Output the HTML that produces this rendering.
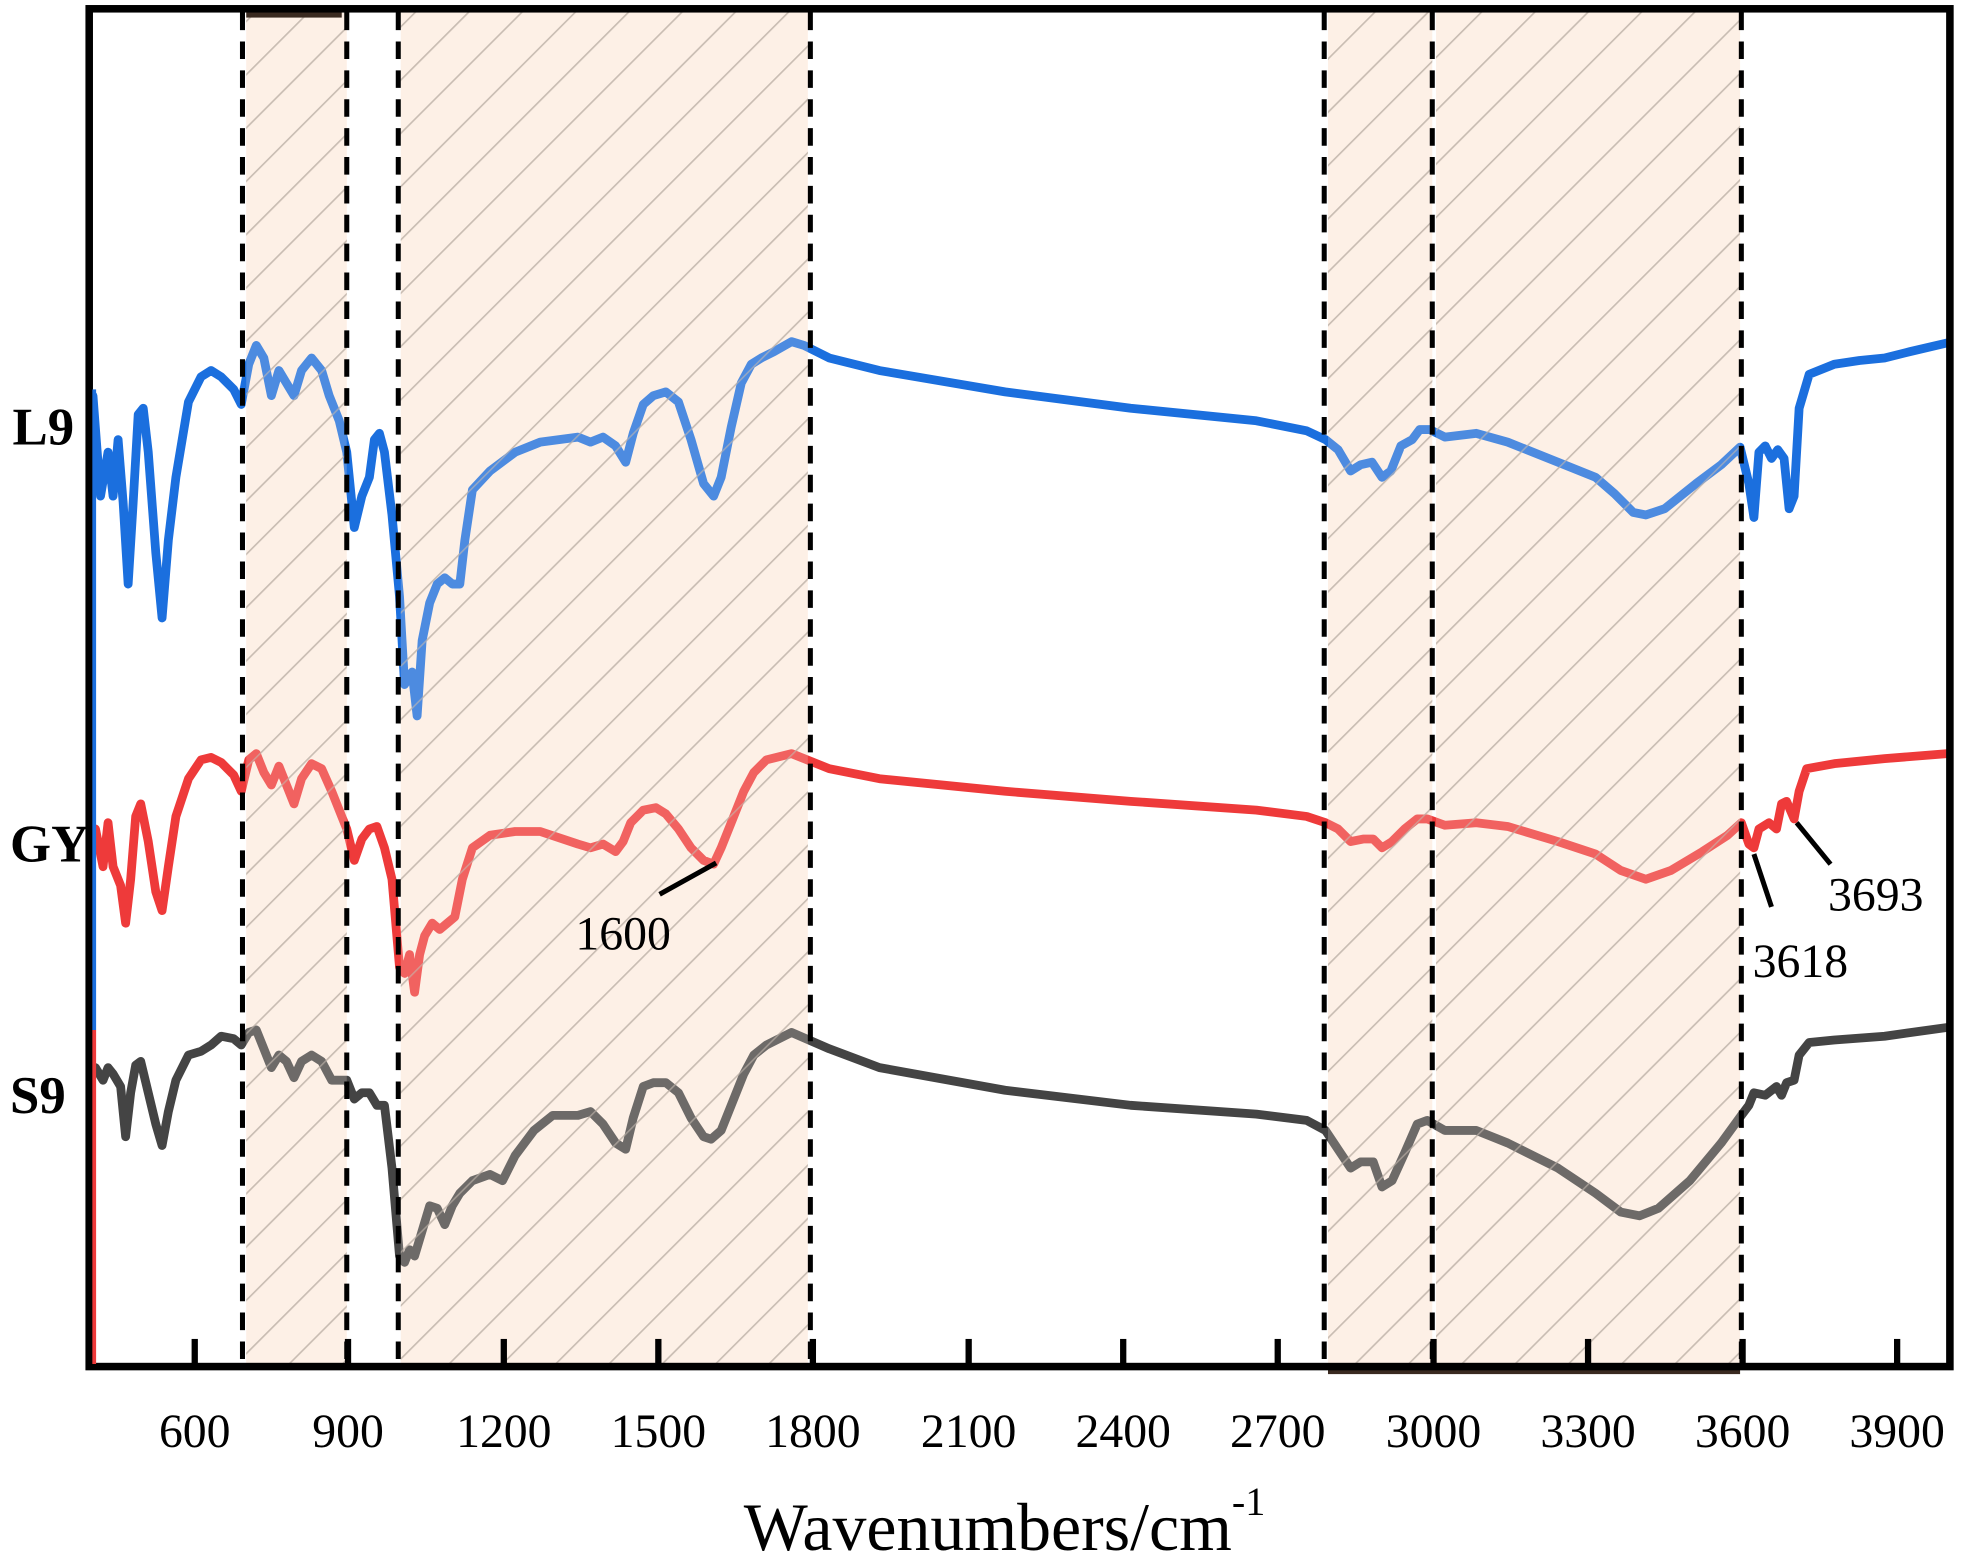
<!DOCTYPE html>
<html><head><meta charset="utf-8"><style>html,body{margin:0;padding:0;background:#fff}svg{display:block}</style></head>
<body>
<svg width="1970" height="1560" viewBox="0 0 1568 1242" preserveAspectRatio="none" xmlns="http://www.w3.org/2000/svg">
<defs>
<pattern id="h" patternUnits="userSpaceOnUse" width="30" height="30" patternTransform="rotate(45)">
<rect width="30" height="30" fill="#fdf0e6"/>
<line x1="0" y1="0" x2="0" y2="30" stroke="#c4b8ae" stroke-width="2.5"/>
</pattern>
<pattern id="h2" patternUnits="userSpaceOnUse" width="30" height="30" patternTransform="rotate(45)">
<line x1="0" y1="0" x2="0" y2="30" stroke="#c4b8ae" stroke-width="2.5"/>
</pattern>
</defs>
<rect width="1568" height="1242" fill="#fff"/>
<g fill="url(#h)">
<rect x="196" y="8" width="80" height="1080"/>
<rect x="319" y="8" width="324" height="1080"/>
<rect x="1057" y="8" width="83" height="1080"/>
<rect x="1143" y="8" width="242" height="1080"/>
</g>
<g fill="none" stroke-width="7" stroke-linejoin="round" stroke-linecap="round">
<polyline stroke="#1b6fde" points="74,315 80,395 86,360 90,395 94,350 98,400 102,465 106,400 110,330 114,325 118,360 124,440 129,492 134,430 140,380 150,320 160,300 168,295 176,300 186,310 192,322 198,290 204,275 210,285 216,315 222,295 228,305 234,315 240,295 248,285 256,295 262,315 270,335 276,360 282,420 288,395 294,380 298,350 302,345 306,360 312,410 318,475 322,545 328,535 332,570 336,510 342,480 348,465 354,460 360,465 366,465 370,430 376,390 390,375 410,360 430,352 460,348 470,352 480,348 490,355 498,368 504,345 512,322 520,315 530,312 540,320 550,350 560,385 568,395 574,380 582,340 590,305 598,290 606,285 616,280 630,272 640,275 660,285 700,295 800,312 900,325 1000,335 1040,343 1055,350 1065,358 1075,375 1083,370 1092,368 1100,380 1107,375 1115,355 1124,350 1130,342 1138,342 1150,348 1175,345 1200,352 1240,368 1270,380 1285,393 1300,408 1310,410 1325,405 1350,385 1370,370 1385,356 1392,385 1396,412 1400,360 1405,355 1410,365 1415,358 1420,365 1424,405 1428,395 1432,325 1440,298 1460,290 1480,287 1500,285 1520,280 1550,273"/>
<polyline stroke="#ee3a3a" points="76,660 82,690 86,655 90,690 96,705 100,735 104,700 108,650 112,640 118,670 124,710 129,725 134,690 140,650 150,620 160,605 168,603 176,607 186,617 192,630 198,605 204,600 210,615 216,625 222,610 228,625 234,640 240,620 248,608 256,612 264,630 270,645 276,660 282,685 288,668 294,660 300,658 306,675 312,700 318,770 322,775 326,760 330,790 334,760 338,745 344,735 350,740 356,735 362,730 368,700 376,675 390,665 410,662 430,662 460,672 470,675 480,672 490,678 496,670 502,655 512,645 522,643 530,648 540,660 550,675 560,685 568,688 574,675 582,655 592,630 600,615 610,605 630,600 660,612 700,620 800,630 900,638 1000,645 1040,650 1055,655 1065,660 1075,670 1085,668 1093,668 1100,675 1108,670 1118,660 1128,652 1136,652 1150,657 1175,655 1200,658 1240,670 1270,680 1290,693 1310,700 1330,693 1355,678 1375,665 1386,655 1392,672 1396,675 1400,660 1408,655 1414,660 1418,640 1422,638 1428,652 1432,630 1438,612 1460,608 1500,604 1550,600"/>
<polyline stroke="#444" points="76,850 82,860 86,850 90,855 96,865 100,905 104,870 108,848 112,845 118,870 124,895 129,912 134,885 140,860 150,840 160,837 168,832 176,825 186,827 192,832 198,822 204,820 210,835 216,850 222,840 228,845 234,858 240,845 248,840 256,845 264,860 270,860 276,860 282,875 288,870 294,870 300,880 306,880 312,930 318,1000 322,1005 326,995 330,1000 336,980 342,960 348,962 354,975 360,960 366,950 376,940 390,935 400,940 410,920 425,900 440,888 460,888 470,885 480,895 490,910 498,915 504,890 512,865 520,862 530,862 540,870 550,890 560,905 566,907 574,900 582,880 592,855 600,840 610,832 630,822 660,835 700,850 800,868 900,880 1000,887 1040,892 1055,900 1065,915 1075,930 1083,925 1093,925 1100,945 1108,940 1118,918 1128,895 1136,892 1150,900 1175,900 1200,910 1240,930 1270,950 1290,965 1305,968 1320,962 1345,940 1370,910 1386,888 1392,880 1396,870 1405,872 1414,865 1418,872 1422,862 1428,860 1432,840 1440,830 1460,828 1500,825 1550,818"/>
</g>
<g fill="#fdf0e6" opacity="0.22">
<rect x="196" y="8" width="80" height="1080"/>
<rect x="319" y="8" width="324" height="1080"/>
<rect x="1057" y="8" width="83" height="1080"/>
<rect x="1143" y="8" width="242" height="1080"/>
</g>
<g fill="url(#h2)" opacity="0.6">
<rect x="196" y="8" width="80" height="1080"/>
<rect x="319" y="8" width="324" height="1080"/>
<rect x="1057" y="8" width="83" height="1080"/>
<rect x="1143" y="8" width="242" height="1080"/>
</g>
<g fill="#3a2a20">
<rect x="196" y="6" width="76" height="8"/>
<rect x="1057" y="1086" width="328" height="8"/>
</g>
<g stroke="#000" stroke-width="4" stroke-dasharray="14,9">
<line x1="193" y1="10" x2="193" y2="1088"/>
<line x1="276" y1="10" x2="276" y2="1088"/>
<line x1="317" y1="10" x2="317" y2="1088"/>
<line x1="645" y1="10" x2="645" y2="1088"/>
<line x1="1054" y1="10" x2="1054" y2="1088"/>
<line x1="1140" y1="10" x2="1140" y2="1088"/>
<line x1="1386" y1="10" x2="1386" y2="1088"/>
</g>
<g stroke="#000" stroke-width="5">
<line x1="155" y1="1066" x2="155" y2="1088"/><line x1="277" y1="1066" x2="277" y2="1088"/><line x1="401" y1="1066" x2="401" y2="1088"/><line x1="524" y1="1066" x2="524" y2="1088"/><line x1="647" y1="1066" x2="647" y2="1088"/><line x1="771" y1="1066" x2="771" y2="1088"/><line x1="894" y1="1066" x2="894" y2="1088"/><line x1="1017" y1="1066" x2="1017" y2="1088"/><line x1="1141" y1="1066" x2="1141" y2="1088"/><line x1="1264" y1="1066" x2="1264" y2="1088"/><line x1="1387" y1="1066" x2="1387" y2="1088"/><line x1="1510" y1="1066" x2="1510" y2="1088"/>
</g>
<rect x="71" y="7" width="1481" height="1081" fill="none" stroke="#000" stroke-width="6"/>
<line x1="75" y1="310" x2="75" y2="820" stroke="#1b6fde" stroke-width="3"/>
<line x1="75" y1="820" x2="75" y2="1086" stroke="#ee3a3a" stroke-width="3"/>
<g stroke="#000" stroke-width="4">
<line x1="525" y1="712" x2="570" y2="687"/>
<line x1="1396" y1="680" x2="1410" y2="722"/>
<line x1="1430" y1="655" x2="1457" y2="688"/>
</g>
<g font-family="Liberation Serif, serif" fill="#000">
<g font-size="38" text-anchor="middle">
<text x="155" y="1152">600</text><text x="277" y="1152">900</text><text x="401" y="1152">1200</text><text x="524" y="1152">1500</text><text x="647" y="1152">1800</text><text x="771" y="1152">2100</text><text x="894" y="1152">2400</text><text x="1017" y="1152">2700</text><text x="1141" y="1152">3000</text><text x="1264" y="1152">3300</text><text x="1387" y="1152">3600</text><text x="1510" y="1152">3900</text>
</g>
<text x="592" y="1234" font-size="54">Wavenumbers/cm<tspan font-size="32" dy="-28">-1</tspan></text>
<g font-size="42" font-weight="bold">
<text x="10" y="354">L9</text><text x="8" y="686">GY</text><text x="8" y="886">S9</text>
</g>
<g font-size="38">
<text x="458" y="756">1600</text><text x="1395" y="778">3618</text><text x="1455" y="725">3693</text>
</g>
</g>
</svg>
</body></html>
